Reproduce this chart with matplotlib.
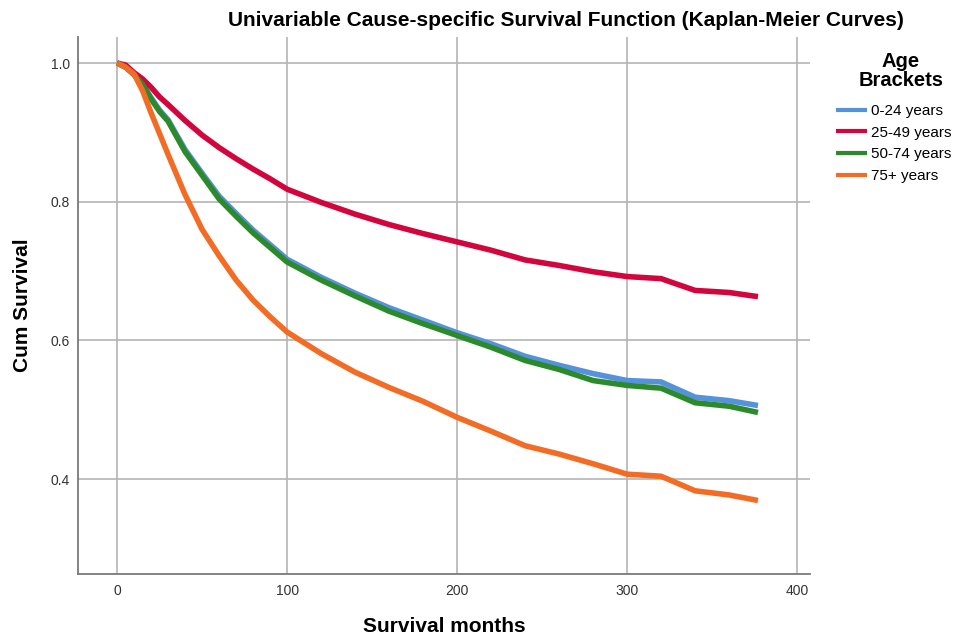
import matplotlib
matplotlib.use("Agg")
import matplotlib.pyplot as plt

plt.rcParams['font.family'] = ['Liberation Sans', 'DejaVu Sans']

# Kaplan-Meier estimates (month, cumulative survival)
months = [0, 5, 10, 15, 20, 25, 30, 40, 50, 60, 70, 80, 90, 100, 120, 140,
          160, 180, 200, 220, 240, 260, 280, 300, 320, 340, 360, 377]

surv_0_24 = [1.0, 0.994, 0.984, 0.970, 0.950, 0.932, 0.918, 0.875, 0.841, 0.808,
             0.783, 0.759, 0.738, 0.717, 0.691, 0.668, 0.647, 0.629, 0.611, 0.595,
             0.577, 0.564, 0.552, 0.542, 0.540, 0.518, 0.513, 0.506]
surv_25_49 = [1.0, 0.997, 0.986, 0.977, 0.965, 0.951, 0.940, 0.917, 0.896, 0.878,
              0.862, 0.847, 0.833, 0.818, 0.799, 0.782, 0.767, 0.754, 0.742, 0.730,
              0.716, 0.708, 0.699, 0.692, 0.689, 0.672, 0.669, 0.663]
surv_50_74 = [1.0, 0.994, 0.983, 0.969, 0.948, 0.930, 0.916, 0.872, 0.838, 0.804,
              0.779, 0.755, 0.734, 0.713, 0.687, 0.664, 0.642, 0.624, 0.607, 0.590,
              0.571, 0.558, 0.542, 0.535, 0.531, 0.510, 0.505, 0.496]
surv_75 = [1.0, 0.994, 0.984, 0.960, 0.928, 0.898, 0.868, 0.810, 0.760, 0.722,
           0.687, 0.658, 0.634, 0.612, 0.581, 0.554, 0.532, 0.512, 0.489, 0.469,
           0.448, 0.436, 0.422, 0.407, 0.404, 0.383, 0.377, 0.369]

labels = ["0-24 years", "25-49 years", "50-74 years", "75+ years"]
colors = ['#5592dc', '#d3053d', '#2c8a2c', '#f36c25']
series = [surv_0_24, surv_25_49, surv_50_74, surv_75]

fig = plt.figure(figsize=(9.66, 6.41), dpi=100)
ax = fig.add_axes([78/966, 67/641, (810-78)/966, (604-67)/641])

for s, c, lab in zip(series, colors, labels):
    ax.plot(months, s, color=c, lw=4, label=lab, solid_capstyle='butt')

ax.set_xlim(-23, 407.6)
ax.set_ylim(0.263, 1.0375)
ax.set_xticks([0, 100, 200, 300, 400])
ax.set_yticks([0.4, 0.6, 0.8, 1.0])
ax.set_yticklabels(["0.4", "0.6", "0.8", "1.0"])
ax.grid(color='#b4b4b4', lw=1.2)
ax.set_axisbelow(True)
ax.tick_params(length=0, labelsize=10, colors='#333333')
ax.tick_params(axis='y', pad=6)
ax.tick_params(axis='x', pad=7)
for sp in ['top', 'right']:
    ax.spines[sp].set_visible(False)
for sp in ['left', 'bottom']:
    ax.spines[sp].set_color('#7a7a7a')
    ax.spines[sp].set_linewidth(1.3)

ax.set_xlabel('Survival months', fontsize=15, fontweight='bold', va='center')
ax.xaxis.set_label_coords(0.5, -(627 - 574) / 537)
ax.set_ylabel('Cum Survival', fontsize=15, fontweight='bold', va='center')
ax.yaxis.set_label_coords(-(78 - 23) / 732, 0.5)

fig.text(566/966, 1 - 21/641, 'Univariable Cause-specific Survival Function (Kaplan-Meier Curves)',
         ha='center', va='center', fontsize=15, fontweight='bold')

# legend title drawn separately so both lines are centred
fig.text(901/966, 1 - 71/641, 'Age\nBrackets', ha='center', va='center',
         multialignment='center', fontsize=14.5, fontweight='bold', linespacing=1.0)

leg = fig.legend(loc='upper left', bbox_to_anchor=(836/966, 1 - 104/641), frameon=False,
                 borderpad=0, borderaxespad=0, handlelength=2.0, handletextpad=0.3,
                 labelspacing=0.5, fontsize=11)
for h in leg.get_lines():
    h.set_linewidth(3)

fig.savefig('out.png', dpi=100)
